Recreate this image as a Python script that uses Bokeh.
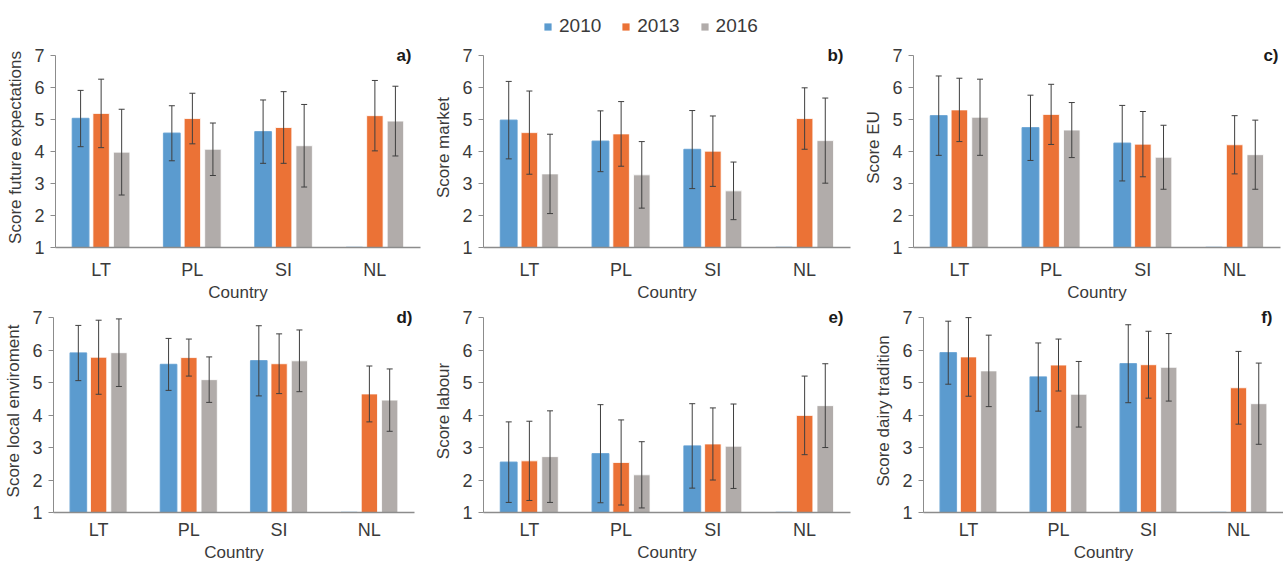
from bokeh.plotting import figure
from bokeh.models import (ColumnDataSource, FactorRange, Label, Legend,
                          LegendItem, Range1d, FixedTicker)
from bokeh.transform import dodge
from bokeh.layouts import column, row
from bokeh.embed import file_html
from bokeh.resources import INLINE
import math

countries = ["LT", "PL", "SI", "NL"]
years = ["2010", "2013", "2016"]
colors = ["#5B9BCF", "#EB7236", "#B1ACAA"]
nan = float("nan")

# mean scores per panel, per year (order: LT, PL, SI, NL); NL 2010 missing
a_2010 = [5.03, 4.57, 4.62, nan]
a_2013 = [5.19, 5.03, 4.75, 5.12]
a_2016 = [3.98, 4.07, 4.18, 4.95]
a_sd_2010 = [0.88, 0.86, 0.99, nan]
a_sd_2013 = [1.07, 0.79, 1.12, 1.10]
a_sd_2016 = [1.34, 0.82, 1.29, 1.09]

b_2010 = [4.98, 4.32, 4.06, nan]
b_2013 = [4.59, 4.55, 4.01, 5.03]
b_2016 = [3.30, 3.27, 2.77, 4.34]
b_sd_2010 = [1.21, 0.95, 1.22, nan]
b_sd_2013 = [1.30, 1.01, 1.10, 0.96]
b_sd_2016 = [1.24, 1.04, 0.90, 1.33]

c_2010 = [5.12, 4.74, 4.26, nan]
c_2013 = [5.30, 5.16, 4.23, 4.21]
c_2016 = [5.07, 4.67, 3.82, 3.90]
c_sd_2010 = [1.24, 1.02, 1.18, nan]
c_sd_2013 = [0.99, 0.94, 1.02, 0.91]
c_sd_2016 = [1.19, 0.86, 1.00, 1.08]

d_2010 = [5.91, 5.56, 5.67, nan]
d_2013 = [5.78, 5.77, 5.58, 4.65]
d_2016 = [5.92, 5.09, 5.67, 4.46]
d_sd_2010 = [0.85, 0.80, 1.08, nan]
d_sd_2013 = [1.14, 0.57, 0.92, 0.86]
d_sd_2016 = [1.04, 0.70, 0.95, 0.96]

e_2010 = [2.55, 2.81, 3.05, nan]
e_2013 = [2.59, 2.54, 3.11, 3.99]
e_2016 = [2.72, 2.16, 3.04, 4.29]
e_sd_2010 = [1.24, 1.51, 1.30, nan]
e_sd_2013 = [1.22, 1.31, 1.11, 1.21]
e_sd_2016 = [1.41, 1.02, 1.30, 1.29]

f_2010 = [5.92, 5.17, 5.58, nan]
f_2013 = [5.79, 5.54, 5.55, 4.84]
f_2016 = [5.36, 4.64, 5.47, 4.35]
f_sd_2010 = [0.97, 1.05, 1.20, nan]
f_sd_2013 = [1.21, 0.80, 1.03, 1.12]
f_sd_2016 = [1.10, 1.01, 1.04, 1.25]

y_ticks = [1, 2, 3, 4, 5, 6, 7]
x_label = "Country"

panels = [
    ("a)", "Score future expectations", [a_2010, a_2013, a_2016], [a_sd_2010, a_sd_2013, a_sd_2016]),
    ("b)", "Score market", [b_2010, b_2013, b_2016], [b_sd_2010, b_sd_2013, b_sd_2016]),
    ("c)", "Score EU", [c_2010, c_2013, c_2016], [c_sd_2010, c_sd_2013, c_sd_2016]),
    ("d)", "Score local enviroment", [d_2010, d_2013, d_2016], [d_sd_2010, d_sd_2013, d_sd_2016]),
    ("e)", "Score labour", [e_2010, e_2013, e_2016], [e_sd_2010, e_sd_2013, e_sd_2016]),
    ("f)", "Score dairy tradition", [f_2010, f_2013, f_2016], [f_sd_2010, f_sd_2013, f_sd_2016]),
]

FONT = "Liberation Sans"
TXT = "#3A3A3A"
AX = "#8C8C8C"
ERR = "#3F3F3F"
offsets = [-0.225, 0.0, 0.225]
BASE = 1
YTOP = 7.25

# layout geometry: (width, border_left, border_right, tag inset from frame right)
geo = [(430, 55, 10, 9), (430, 53, 10, 7), (423, 53, 3, 2),
       (430, 53, 16, 2), (430, 53, 10, 7), (423, 63, 0, 11)]


def make_panel(i, tag, ylab, means, sds):
    w, bl, br, inset = geo[i]
    top_row = i < 3
    p = figure(x_range=FactorRange(*countries, range_padding=0),
               y_range=Range1d(BASE, YTOP),
               width=w, height=264 if top_row else 260,
               output_backend="svg", toolbar_location=None,
               min_border_left=bl, min_border_right=br,
               min_border_top=7 if top_row else 5,
               min_border_bottom=55 if top_row else 40)
    p.outline_line_color = None
    p.xgrid.grid_line_color = None
    p.ygrid.grid_line_color = None
    for k in range(3):
        vals = means[k]
        errs = sds[k]
        tops = [BASE if math.isnan(v) else v for v in vals]
        src = ColumnDataSource(dict(x=countries, top=tops))
        p.vbar(x=dodge("x", offsets[k], range=p.x_range), top="top", bottom=BASE,
               width=0.18, source=src, fill_color=colors[k],
               line_color=colors[k] if k == 0 else "white", line_alpha=0.8,
               line_width=1.5 if k == 0 else 1)
        ex = [c for c, v, e in zip(countries, vals, errs) if not math.isnan(e)]
        up = [v + e for v, e in zip(vals, errs) if not math.isnan(e)]
        lo = [v - e for v, e in zip(vals, errs) if not math.isnan(e)]
        wsrc = ColumnDataSource(dict(x=ex, upper=up, lower=lo))
        xb = dodge("x", offsets[k], range=p.x_range)
        p.segment(x0=xb, x1=xb, y0="lower", y1="upper", source=wsrc,
                  line_color=ERR, line_width=1)
        p.scatter(x=xb, y="upper", source=wsrc, marker="dash", size=6,
                  line_color=ERR, line_width=1)
        p.scatter(x=xb, y="lower", source=wsrc, marker="dash", size=6,
                  line_color=ERR, line_width=1)
    # axes
    p.yaxis.ticker = FixedTicker(ticks=y_ticks)
    p.yaxis.bounds = (BASE, 7)
    p.yaxis.minor_tick_line_color = None
    p.yaxis.major_tick_out = 5
    p.yaxis.major_tick_in = 0
    p.yaxis.major_tick_line_color = AX
    p.yaxis.axis_line_color = AX
    p.yaxis.axis_line_width = 1
    p.yaxis.major_label_standoff = 6
    p.yaxis.axis_label = ylab
    p.yaxis.axis_label_standoff = 6
    p.xaxis.axis_label = x_label
    p.xaxis.major_tick_line_color = None
    p.xaxis.major_tick_out = 0
    p.xaxis.major_tick_in = 0
    p.xaxis.axis_line_color = AX
    p.xaxis.axis_line_width = 1.5
    p.xaxis.major_label_standoff = 12 if top_row else 7
    p.xaxis.axis_label_standoff = 0
    for ax in (p.xaxis[0], p.yaxis[0]):
        ax.major_label_text_font = FONT
        ax.major_label_text_font_size = "18px"
        ax.major_label_text_color = TXT
        ax.axis_label_text_font = FONT
        ax.axis_label_text_font_size = "17px"
        ax.axis_label_text_font_style = "normal"
        ax.axis_label_text_color = TXT
    lab = Label(x=w - bl - br - inset, y=7, x_units="screen", y_units="data",
                text=tag, text_font=FONT, text_font_size="17px",
                text_font_style="bold", text_color="#1A1A1A",
                text_align="right", text_baseline="middle")
    p.add_layout(lab)
    return p


figs = [make_panel(i, *pn) for i, pn in enumerate(panels)]

# legend figure
lf = figure(width=1283, height=40, output_backend="svg", toolbar_location=None,
            x_range=Range1d(0, 1), y_range=Range1d(0, 1),
            min_border=0, min_border_left=0, min_border_right=0,
            min_border_top=0, min_border_bottom=0)
lf.axis.visible = False
lf.xgrid.visible = False
lf.ygrid.visible = False
lf.outline_line_color = None
items = []
for k, yr in enumerate(years):
    proxy = ColumnDataSource(dict(x=[0.5], top=[nan]))
    r = lf.vbar(x="x", top="top", width=0.1, source=proxy,
                fill_color=colors[k], line_color=None)
    items.append(LegendItem(label=yr, renderers=[r]))
leg = Legend(items=items, orientation="horizontal", location=(543, 3),
             glyph_width=9, glyph_height=9, label_text_font=FONT,
             label_text_font_size="19px", label_text_color=TXT,
             label_standoff=7, spacing=20, padding=2, margin=0,
             border_line_color=None, background_fill_alpha=0)
lf.add_layout(leg)

layout = column(lf, row(*figs[:3]), row(*figs[3:]), spacing=0)
open("out.html", "w").write(file_html(layout, INLINE))
